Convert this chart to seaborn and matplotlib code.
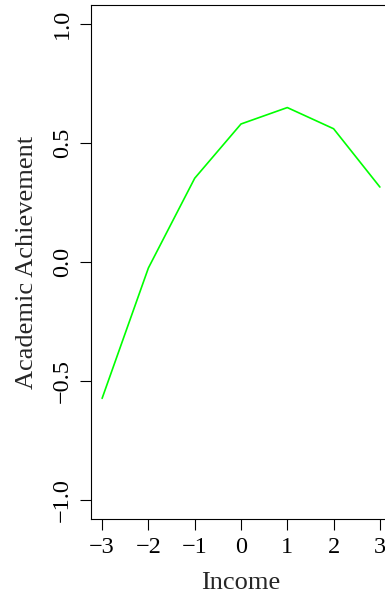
import matplotlib
matplotlib.use("Agg")
import matplotlib.pyplot as plt
import seaborn as sns
import pandas as pd

# Predicted academic achievement across standardized income levels
income = [-3, -2, -1, 0, 1, 2, 3]
achievement = [-0.573, -0.025, 0.352, 0.580, 0.649, 0.560, 0.315]
x_ticks = [-3, -2, -1, 0, 1, 2, 3]
y_ticks = [-1.0, -0.5, 0.0, 0.5, 1.0]

sns.set_style("white")
plt.rcParams["font.family"] = ["Liberation Serif", "DejaVu Serif"]
plt.rcParams["axes.unicode_minus"] = True

df = pd.DataFrame({"Income": income, "Academic Achievement": achievement})

fig = plt.figure(figsize=(3.85, 5.98), dpi=100)
ax = fig.add_axes([91 / 385, 79 / 598, 300 / 385, 514 / 598])

sns.lineplot(data=df, x="Income", y="Academic Achievement", color="#00FF00",
             linewidth=1.2, ax=ax)

ax.set_xlim(-3.24, 3.24)
ax.set_ylim(-1.08, 1.08)
ax.set_xticks(x_ticks)
ax.set_xticklabels([f"{v}".replace("-", "\u2212") for v in x_ticks])
ax.set_yticks(y_ticks)
ax.set_yticklabels([f"{v:.1f}".replace("-", "\u2212") for v in y_ticks],
                   rotation=90, va="center")

for side in ["left", "bottom", "top", "right"]:
    ax.spines[side].set_visible(True)
    ax.spines[side].set_color("black")
    ax.spines[side].set_linewidth(0.8)

ax.tick_params(axis="both", which="major", direction="out", length=8,
               width=0.8, color="black", labelsize=17.5, labelcolor="black")
ax.tick_params(axis="y", pad=5)
ax.tick_params(axis="x", pad=5)
ax.tick_params(left=True, bottom=True)

ax.set_xlabel("Income", fontsize=19, labelpad=10)
ax.set_ylabel("Academic Achievement", fontsize=19, labelpad=10)

fig.savefig("out.png", dpi=100)
